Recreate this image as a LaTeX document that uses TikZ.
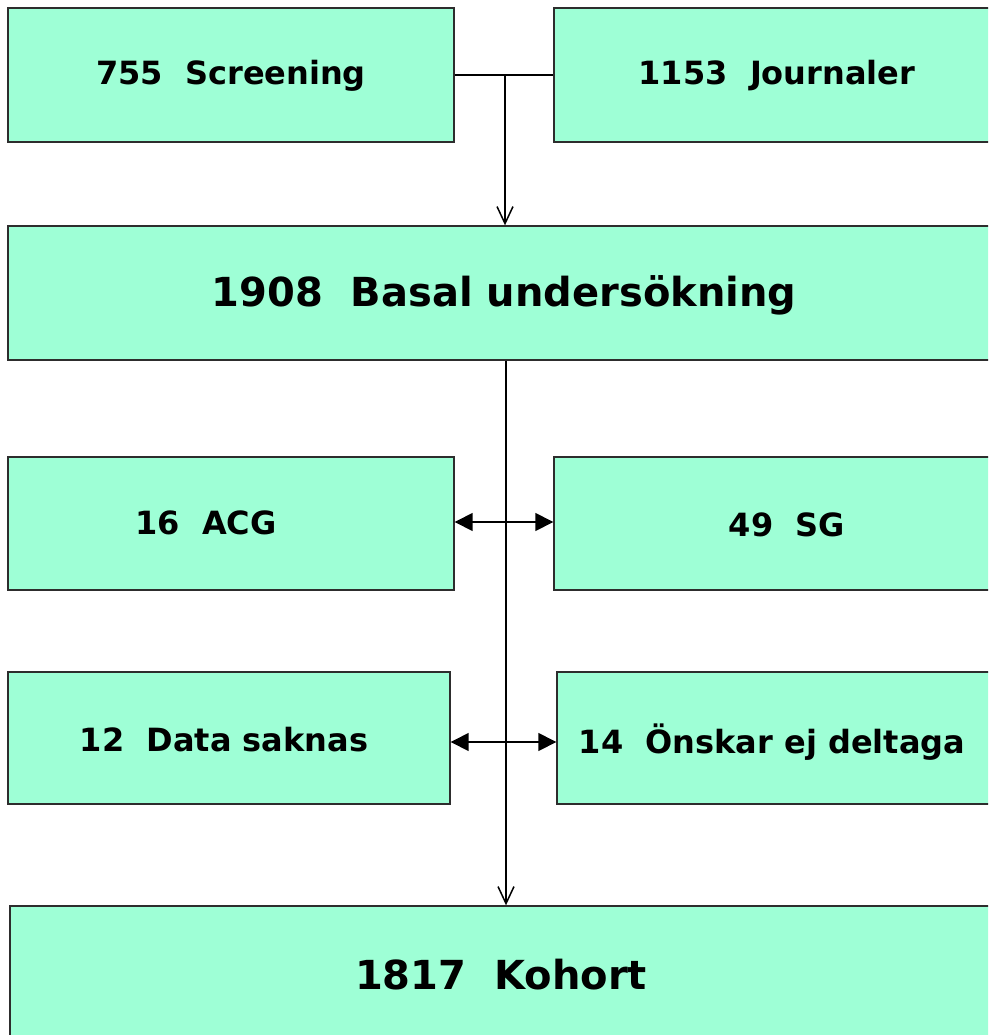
\documentclass[tikz,border=0pt]{standalone}
\usepackage{fontspec}
\setmainfont{DejaVu Sans}
\usetikzlibrary{arrows.meta}
\definecolor{boxfill}{RGB}{158,255,214}
\definecolor{boxline}{RGB}{45,45,45}
\tikzset{
  box/.style={draw=boxline, fill=boxfill, line width=1.4pt, rectangle, inner sep=0pt},
  lbl/.style={font=\bfseries\fontsize{32}{38}\selectfont, inner sep=0pt},
  biglbl/.style={font=\bfseries\fontsize{40}{46}\selectfont, inner sep=0pt},
  conn/.style={draw=black, line width=1.5pt},
  downarrow/.style={conn, -{Straight Barb[length=17pt,width=16pt,line width=1.5pt]}},
  twoway/.style={conn, {Triangle[length=18pt,width=18pt]}-{Triangle[length=18pt,width=18pt]}}
}
\begin{document}
\begin{tikzpicture}[x=1pt,y=-1pt]
\clip (0,0) rectangle (988,1035);
\fill[white] (0,0) rectangle (988,1035);
% boxes
\node[box, minimum width=446pt, minimum height=134pt] (scr) at (231,75) {};
\node[box, minimum width=446pt, minimum height=134pt] (jou) at (777,75) {};
\node[box, minimum width=992pt, minimum height=134pt] (bas) at (504,293) {};
\node[box, minimum width=446pt, minimum height=133pt] (acg) at (231,523.5) {};
\node[box, minimum width=446pt, minimum height=133pt] (sg) at (777,523.5) {};
\node[box, minimum width=442pt, minimum height=132pt] (dat) at (229,738) {};
\node[box, minimum width=446pt, minimum height=132pt] (ons) at (780,738) {};
\node[box, minimum width=990pt, minimum height=140pt] (koh) at (505,976) {};
% labels
\node[lbl] (tscr) at (231,76) {755\ \ Screening};
\node[lbl] (tjou) at (777,76) {1153\ \ Journaler};
\node[biglbl] (tbas) at (504,295) {1908\ \ Basal undersökning};
\node[lbl] (tacg) at (206,523) {16\ \ ACG};
\node[lbl] (tsg) at (787,525) {49\ \ SG};
\node[lbl] (tdat) at (224,740) {12\ \ Data saknas};
\node[lbl] (tons) at (772,742) {14\ \ Önskar ej deltaga};
\node[biglbl] (tkoh) at (501,975) {1817\ \ Kohort};
% connectors
\coordinate (j) at (505,75);
\draw[conn] (scr.east |- j) -- (jou.west |- j);
\draw[downarrow] (j) -- (j |- bas.north);
\coordinate (b) at (506,360);
\draw[downarrow] (bas.south -| b) -- (koh.north -| b);
\coordinate (r1) at (505,522);
\draw[twoway] (acg.east |- r1) -- (sg.west |- r1);
\coordinate (r2) at (505,742);
\draw[twoway] (dat.east |- r2) -- (ons.west |- r2);
\end{tikzpicture}
\end{document}
